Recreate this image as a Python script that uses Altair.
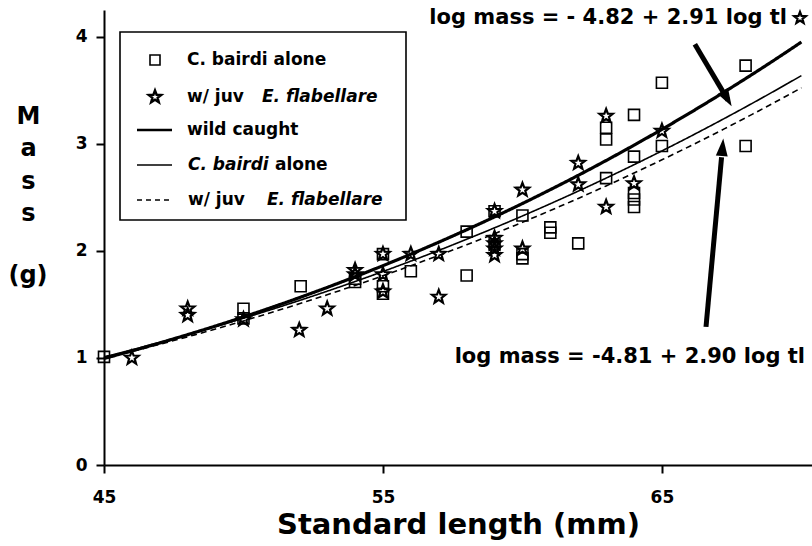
import altair as alt
import pandas as pd

# ---------------- data ----------------
# C. bairdi alone (open squares)
sq_x = [45.0, 50.0, 50.0, 52.05, 54.0, 54.0, 55.0, 55.0, 55.0, 56.0,
        58.0, 58.0, 59.0, 59.0, 60.0, 60.0, 60.0, 61.0, 61.0, 62.0,
        63.0, 63.0, 63.0, 64.0, 64.0, 64.0, 64.0, 64.0, 65.0, 65.0,
        68.0, 68.0]
sq_y = [1.01, 1.46, 1.37, 1.67, 1.74, 1.71, 1.97, 1.67, 1.60, 1.81,
        2.18, 1.77, 2.37, 2.06, 2.33, 1.97, 1.93, 2.22, 2.17, 2.07,
        3.15, 3.04, 2.68, 3.27, 2.88, 2.54, 2.48, 2.41, 3.57, 2.98,
        3.73, 2.98]
# w/ juv E. flabellare (open stars)
st_x = [46.0, 48.0, 48.0, 50.0, 52.0, 53.0, 54.0, 54.0, 55.0, 55.0,
        55.0, 56.0, 57.0, 57.0, 59.0, 59.0, 59.0, 59.0, 59.0, 60.0,
        60.0, 62.0, 62.0, 63.0, 63.0, 64.0, 65.0]
st_y = [1.00, 1.46, 1.40, 1.36, 1.26, 1.46, 1.82, 1.78, 1.97, 1.78,
        1.62, 1.97, 1.97, 1.57, 2.37, 2.12, 2.07, 2.02, 1.96, 2.57,
        2.02, 2.82, 2.62, 3.26, 2.41, 2.63, 3.12]

# fitted curves: log10(mass) = a + b * log10(length)
curve_names = ["wild caught", "C. bairdi alone", "w/ juv E. flabellare"]
curve_a = [-5.16, -4.79, -4.73]
curve_b = [3.12, 2.90, 2.86]

x_ticks = [45, 55, 65]
y_ticks = [0, 1, 2, 3, 4]

y_title_letters = ["M", "a", "s", "s"]
y_title_unit = "(g)"

eq_upper = "log mass = - 4.82 + 2.91 log tl"
eq_lower = "log mass = -4.81 + 2.90 log tl"

# arrows (start -> tip, data units)
arrow_x = [66.18, 66.58]
arrow_y = [3.93, 1.29]
arrow_tx = [67.50, 67.20]
arrow_ty = [3.35, 3.05]
arrow_angle = [150, 5]

# ---------------- styles ----------------
FONT = "DejaVu Sans"
STAR = ("M0,-1L0.247,-0.34L0.951,-0.309L0.4,0.13L0.588,0.809L0,0.42"
        "L-0.588,0.809L-0.4,0.13L-0.951,-0.309L-0.247,-0.34Z")
HEAD = "M0,0L0.42,1.25L-0.42,1.25Z"

xs = alt.Scale(domain=[45, 70.38], nice=False, zero=False)
ys = alt.Scale(domain=[0, 4.25], nice=False, zero=True)

xax = alt.Axis(values=x_ticks, format="d", title="Standard length (mm)", grid=False,
               domainColor="black", domainWidth=2, tickColor="black", tickWidth=2,
               tickSize=8, labelFont=FONT, labelFontWeight="bold", labelFontSize=17,
               labelColor="black", labelPadding=16, titleFont=FONT,
               titleFontWeight="bold", titleFontSize=29, titleColor="black",
               titlePadding=5, labelFlush=False)
yax = alt.Axis(values=y_ticks, format="d", title=y_title_letters,
               grid=False, domainColor="black", domainWidth=2, tickColor="black",
               tickWidth=2, tickSize=8, labelFont=FONT, labelFontWeight="bold",
               labelFontSize=17, labelColor="black", labelPadding=9, titleFont=FONT,
               titleFontWeight="bold", titleFontSize=24, titleColor="black",
               titleAngle=0, titleAlign="center", titleBaseline="top",
               titleX=-76, titleY=94, titleLineHeight=32.5, labelFlush=False)

sq_df = pd.DataFrame({"x": sq_x, "y": sq_y})
st_df = pd.DataFrame({"x": st_x, "y": st_y})

squares = alt.Chart(sq_df).mark_point(shape="square", size=121, filled=False,
                                      color="black", strokeWidth=1.6, opacity=1).encode(
    x=alt.X("x:Q", scale=xs, axis=xax),
    y=alt.Y("y:Q", scale=ys, axis=yax))

stars = alt.Chart(st_df).mark_point(shape=STAR, size=200, filled=False,
                                    color="black", strokeWidth=2.2, opacity=1).encode(
    x=alt.X("x:Q", scale=xs), y=alt.Y("y:Q", scale=ys))

widths = [3.2, 1.6, 1.6]
dashes = [[1, 0], [1, 0], [6, 4]]
curves = []
for name, a, b, w, d in zip(curve_names, curve_a, curve_b, widths, dashes):
    c = alt.Chart(alt.sequence(45, 70.01, 0.25, as_="x")).transform_calculate(
        y=f"pow(10, {a} + {b} * log(datum.x) / LN10)"
    ).mark_line(color="black", strokeWidth=w, strokeDash=d).encode(
        x=alt.X("x:Q", scale=xs), y=alt.Y("y:Q", scale=ys))
    curves.append(c)

arr_df = pd.DataFrame({"x": arrow_x, "y": arrow_y, "tx": arrow_tx, "ty": arrow_ty,
                       "angle": arrow_angle})
arr_df["ex"] = arr_df["x"] + 0.9 * (arr_df["tx"] - arr_df["x"])
arr_df["ey"] = arr_df["y"] + 0.9 * (arr_df["ty"] - arr_df["y"])
shafts = alt.Chart(arr_df).mark_rule(color="black", strokeWidth=5).encode(
    x=alt.X("x:Q", scale=xs), y=alt.Y("y:Q", scale=ys), x2="ex:Q", y2="ey:Q")
heads = alt.Chart(arr_df).mark_point(shape=HEAD, size=800, filled=True, color="black",
                                     opacity=1).encode(
    x=alt.X("tx:Q", scale=xs), y=alt.Y("ty:Q", scale=ys),
    angle=alt.Angle("angle:Q", scale=None))

eq1 = alt.Chart(pd.DataFrame({"t": [eq_upper]})).mark_text(
    font=FONT, fontWeight="bold", fontSize=21, align="right", baseline="middle",
    color="black").encode(text="t:N", x=alt.value(683), y=alt.value(8))
eq1_star = alt.Chart(pd.DataFrame({"t": [eq_upper]})).mark_point(
    shape=STAR, size=150, filled=False, color="black", strokeWidth=2.2, opacity=1
).encode(x=alt.value(696), y=alt.value(8))
eq2 = alt.Chart(pd.DataFrame({"t": [eq_lower]})).mark_text(
    font=FONT, fontWeight="bold", fontSize=21, align="right", baseline="middle",
    color="black").encode(text="t:N", x=alt.value(701), y=alt.value(347))

unit_txt = alt.Chart(pd.DataFrame({"t": [y_title_unit]})).mark_text(
    font=FONT, fontWeight="bold", fontSize=24, align="center", baseline="middle",
    color="black").encode(text="t:N", x=alt.value(-76), y=alt.value(266))

# ---------------- hand-made legend ----------------
leg_box = alt.Chart(pd.DataFrame({"a": [0]})).mark_rect(
    filled=False, stroke="black", strokeWidth=1.6).encode(
    x=alt.value(16), x2=alt.value(302), y=alt.value(22), y2=alt.value(210))
leg_sq = alt.Chart(pd.DataFrame({"a": [0]})).mark_point(
    shape="square", size=100, filled=False, color="black", strokeWidth=1.6, opacity=1
).encode(x=alt.value(51), y=alt.value(50))
leg_st = alt.Chart(pd.DataFrame({"a": [0]})).mark_point(
    shape=STAR, size=170, filled=False, color="black", strokeWidth=2.4, opacity=1
).encode(x=alt.value(51), y=alt.value(87))
leg_l1 = alt.Chart(pd.DataFrame({"a": [0]})).mark_rule(color="black", strokeWidth=2.6).encode(
    x=alt.value(33), x2=alt.value(68), y=alt.value(120))
leg_l2 = alt.Chart(pd.DataFrame({"a": [0]})).mark_rule(color="black", strokeWidth=1.6).encode(
    x=alt.value(33), x2=alt.value(68), y=alt.value(155))
leg_l3 = alt.Chart(pd.DataFrame({"a": [0]})).mark_rule(color="black", strokeWidth=1.6,
                                                     strokeDash=[5, 4]).encode(
    x=alt.value(33), x2=alt.value(68), y=alt.value(190))

seg_text = ["C. bairdi alone", "w/ juv", "E. flabellare", "wild caught",
            "C. bairdi", "alone", "w/ juv", "E. flabellare"]
seg_style = ["normal", "normal", "italic", "normal", "italic", "normal", "normal", "italic"]
seg_x = [83, 83, 158, 83, 84, 171, 84, 163]
seg_y = [50, 87, 87, 120, 155, 155, 190, 190]
leg_texts = []
for t, s, px, py in zip(seg_text, seg_style, seg_x, seg_y):
    leg_texts.append(alt.Chart(pd.DataFrame({"t": [t]})).mark_text(
        font=FONT, fontWeight="bold", fontStyle=s, fontSize=17, align="left",
        baseline="middle", color="black").encode(
        text="t:N", x=alt.value(px), y=alt.value(py)))

chart = alt.layer(
    squares, stars, *curves, shafts, heads, eq1, eq1_star, eq2, unit_txt,
    leg_box, leg_sq, leg_st, leg_l1, leg_l2, leg_l3, *leg_texts
).properties(
    width=708, height=455,
    autosize=alt.AutoSizeParams(type="none"),
    padding={"left": 104, "top": 10, "right": 0, "bottom": 81},
    background="white",
).configure_view(stroke=None)

chart.save("out.html", embed_options={"renderer": "svg", "actions": False})
